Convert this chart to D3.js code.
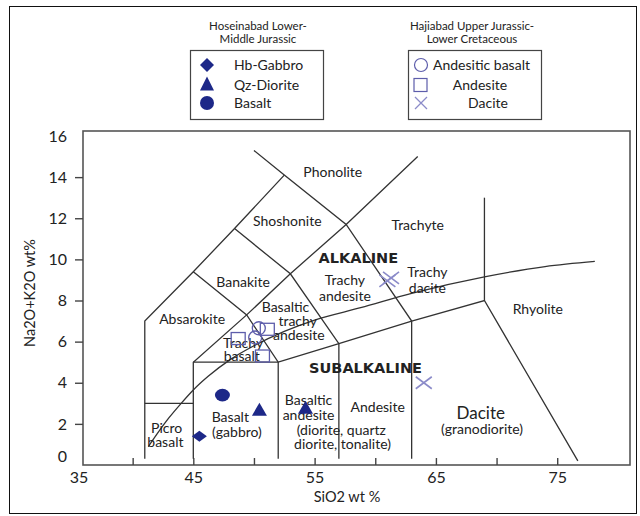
<!DOCTYPE html>
<html>
<head>
<meta charset="utf-8">
<script src="https://cdn.jsdelivr.net/npm/d3@7"></script>
<style>
  body { margin: 0; background: #fff; }
  text { font-family: Lato, "Open Sans", sans-serif; fill: #222; }
  .bold { font-family: "DejaVu Sans", Verdana, sans-serif; font-weight: bold; }
</style>
</head>
<body>
<div id="chart"></div>
<script>
// samples (SiO2 wt%, Na2O+K2O wt%)
var hbGabbro = [[45.5, 1.4]];
var qzDiorite = [[50.45, 2.65], [54.25, 2.75]];
var basalt = [[47.4, 3.4]];
var andesiticBasalt = [[50.4, 6.65], [50.1, 6.2]];
var andesite = [[48.7, 6.15], [51.1, 6.6], [50.7, 5.3]];
var dacite = [[61.0, 8.95], [61.3, 9.1], [64.0, 4.0]];

// TAS field boundaries
var boundaries = [
  [[41, 0.3], [41, 7], [45, 9.4], [48.4, 11.5], [52.5, 14.1]],
  [[41, 3], [45, 3]],
  [[50, 15.3], [52.5, 14.1], [57.6, 11.7], [63, 7], [63, 0.3]],
  [[45, 0.3], [45, 5], [49.4, 7.3], [53, 9.3], [57.6, 11.7], [63.5, 15]],
  [[45, 9.4], [49.4, 7.3], [52, 5], [52, 0.3]],
  [[48.4, 11.5], [53, 9.3], [57, 5.9], [57, 0.3]],
  [[45, 5], [52, 5], [57, 5.9], [63, 7], [69, 8], [76.7, 0.2]],
  [[69, 8], [69, 13]]
];

// alkaline / subalkaline dividing curve
var divide = [[41.3, 0.9], [42, 1.5], [43, 2.3], [44, 3.0], [45, 3.65], [46.2, 4.3],
  [48.1, 5.15], [50, 5.8], [52.5, 6.5], [55, 7.05], [58.8, 7.65], [63, 8.35],
  [69, 9.15], [74, 9.65], [78.1, 9.9]];

var fieldLabels = [
  ["Phonolite", 56.5, 14.25], ["Shoshonite", 52.75, 11.87], ["Banakite", 49.1, 8.9],
  ["Absarokite", 44.9, 7.1], ["Trachyte", 63.5, 11.67],
  ["Trachy", 57.5, 8.98], ["andesite", 57.5, 8.2],
  ["Trachy", 64.3, 9.38], ["dacite", 64.3, 8.6], ["Rhyolite", 73.4, 7.59],
  ["Basaltic", 52.6, 7.68], ["trachy", 53.6, 7.0], ["andesite", 53.7, 6.33],
  ["Trachy", 49.1, 5.92], ["basalt", 49.0, 5.3],
  ["Basaltic", 54.5, 3.14], ["andesite", 54.5, 2.43],
  ["(diorite, quartz", 57.2, 1.72], ["diorite, tonalite)", 57.3, 1.0],
  ["Andesite", 60.2, 2.82], ["(granodiorite)", 68.8, 1.75],
  ["Basalt", 48.05, 2.32], ["(gabbro)", 48.6, 1.62],
  ["Picro", 42.8, 1.8], ["basalt", 42.7, 1.12]
];
var seriesLabels = [["ALKALINE", 58.6, 10.07], ["SUBALKALINE", 59.2, 4.72]];

var xTicks = [40, 45, 50, 55, 60, 65, 70, 75];
var xLabels = [35, 45, 55, 65, 75];
var yTicks = [0, 2, 4, 6, 8, 10, 12, 14, 16];

var width = 640, height = 516;
var frame = { left: 83, right: 630, top: 131, bottom: 465 };
var navy = "#1d2888", hollow = "#5d5dab", cross = "#8b8bc9";

var svg = d3.select("#chart").append("svg")
  .attr("width", width).attr("height", height);

var x = d3.scaleLinear().domain([35, 81]).range([72, 630]);
var y = d3.scaleLinear().domain([0, 16]).range([465, 136]);

// outer border
svg.append("rect")
  .attr("x", 9.5).attr("y", 6.5).attr("width", 627).attr("height", 507)
  .attr("fill", "none").attr("stroke", "#111").attr("stroke-width", 1);

// plot frame
svg.append("rect")
  .attr("x", frame.left).attr("y", frame.top)
  .attr("width", frame.right - frame.left).attr("height", frame.bottom - frame.top)
  .attr("fill", "none").attr("stroke", "#555").attr("stroke-width", 1.6);

// axes
var xAxis = d3.axisBottom(x).tickValues(xTicks).tickSize(-7).tickPadding(7)
  .tickFormat(function(d) { return xLabels.indexOf(d) >= 0 ? d : ""; });
var gx = svg.append("g").attr("transform", "translate(0," + frame.bottom + ")").call(xAxis);
gx.select(".domain").remove();
gx.selectAll("line").attr("stroke", "#444").attr("stroke-width", 1.4);
gx.selectAll("text").style("font-size", "16px").attr("fill", "#222");
svg.append("text")
  .attr("x", frame.left - 4).attr("y", frame.bottom + 7).attr("dy", "0.71em")
  .attr("text-anchor", "middle").style("font-size", "16px")
  .text(xLabels[0]);

var yAxis = d3.axisLeft(y).tickValues(yTicks).tickSize(8).tickPadding(8);
var gy = svg.append("g").attr("transform", "translate(" + frame.left + ",0)").call(yAxis);
gy.select(".domain").remove();
gy.selectAll("line").attr("stroke", "#444").attr("stroke-width", 1.4)
  .attr("opacity", function(d) { return (d === 0 || d === 16) ? 0 : 1; });
gy.selectAll("text").style("font-size", "16px").attr("fill", "#222")
  .attr("y", function(d) { return d === 0 ? -9 : 0; });

svg.append("text")
  .attr("x", 347).attr("y", 502)
  .attr("text-anchor", "middle").style("font-size", "14.5px")
  .text("SiO2 wt %");
svg.append("text")
  .attr("transform", "translate(35,293) rotate(-90)")
  .attr("text-anchor", "middle").style("font-size", "14.5px")
  .text("Na2O+K2O wt%");

// field boundaries
var line = d3.line().x(function(d) { return x(d[0]); }).y(function(d) { return y(d[1]); });
svg.append("g").selectAll("path")
  .data(boundaries)
  .enter().append("path")
  .attr("d", line)
  .attr("fill", "none").attr("stroke", "#333").attr("stroke-width", 1.3);

svg.append("path")
  .attr("d", line.curve(d3.curveMonotoneX)(divide))
  .attr("fill", "none").attr("stroke", "#333").attr("stroke-width", 1.3);

// field names
svg.append("g").selectAll("text")
  .data(fieldLabels)
  .enter().append("text")
  .attr("x", function(d) { return x(d[1]); })
  .attr("y", function(d) { return y(d[2]); })
  .attr("dy", "0.35em")
  .attr("text-anchor", "middle")
  .style("font-size", "14px")
  .text(function(d) { return d[0]; });

svg.append("text")
  .attr("x", x(68.7)).attr("y", y(2.53)).attr("dy", "0.35em")
  .attr("text-anchor", "middle").style("font-size", "17px")
  .text("Dacite");

svg.append("g").selectAll("text")
  .data(seriesLabels)
  .enter().append("text")
  .attr("class", "bold")
  .attr("x", function(d) { return x(d[1]); })
  .attr("y", function(d) { return y(d[2]); })
  .attr("dy", "0.35em")
  .attr("text-anchor", "middle")
  .style("font-size", "14.5px")
  .attr("fill", "#111")
  .text(function(d) { return d[0]; });

// marker shapes
function diamond(w, h) {
  return "M0," + (-h / 2) + "L" + (w / 2) + ",0L0," + (h / 2) + "L" + (-w / 2) + ",0Z";
}
function triangle(w, h) {
  return "M0," + (-h * 0.6) + "L" + (w / 2) + "," + (h * 0.4) + "L" + (-w / 2) + "," + (h * 0.4) + "Z";
}
function crossPath(w, h) {
  return "M" + (-w / 2) + "," + (-h / 2) + "L" + (w / 2) + "," + (h / 2) +
    "M" + (-w / 2) + "," + (h / 2) + "L" + (w / 2) + "," + (-h / 2);
}
function pos(d) { return "translate(" + x(d[0]) + "," + y(d[1]) + ")"; }

var pts = svg.append("g");
pts.selectAll(".gab").data(hbGabbro).enter().append("path")
  .attr("transform", pos).attr("d", diamond(15, 11)).attr("fill", navy);
pts.selectAll(".dio").data(qzDiorite).enter().append("path")
  .attr("transform", pos).attr("d", triangle(15, 13)).attr("fill", navy);
pts.selectAll(".bas").data(basalt).enter().append("ellipse")
  .attr("cx", function(d) { return x(d[0]); }).attr("cy", function(d) { return y(d[1]); })
  .attr("rx", 7.5).attr("ry", 6.3).attr("fill", navy);
pts.selectAll(".and").data(andesite).enter().append("rect")
  .attr("x", function(d) { return x(d[0]) - 7; }).attr("y", function(d) { return y(d[1]) - 6; })
  .attr("width", 14).attr("height", 12)
  .attr("fill", "none").attr("stroke", hollow).attr("stroke-width", 1.3);
pts.selectAll(".ab").data(andesiticBasalt).enter().append("circle")
  .attr("cx", function(d) { return x(d[0]); }).attr("cy", function(d) { return y(d[1]); })
  .attr("r", 6.5)
  .attr("fill", "none").attr("stroke", hollow).attr("stroke-width", 1.3);
pts.selectAll(".dac").data(dacite).enter().append("path")
  .attr("transform", pos).attr("d", crossPath(16, 12))
  .attr("fill", "none").attr("stroke", cross).attr("stroke-width", 1.6);

// legends
var legendTitles = [["Hoseinabad Lower-", "Middle Jurassic"], ["Hajiabad Upper Jurassic-", "Lower Cretaceous"]];
var legendLeft = ["Hb-Gabbro", "Qz-Diorite", "Basalt"];
var legendRight = ["Andesitic basalt", "Andesite", "Dacite"];
var rowY = [65, 85, 103];

var boxes = [{ x: 190, w: 133, cx: 258 }, { x: 408, w: 133, cx: 472 }];
boxes.forEach(function(b, i) {
  svg.append("rect")
    .attr("x", b.x + 0.5).attr("y", 50.5).attr("width", b.w).attr("height", 69)
    .attr("fill", "none").attr("stroke", "#444").attr("stroke-width", 1.2);
  svg.selectAll(".title" + i).data(legendTitles[i]).enter().append("text")
    .attr("x", b.cx).attr("y", function(d, j) { return 26 + j * 13; })
    .attr("dy", "0.35em").attr("text-anchor", "middle")
    .style("font-size", "11.5px").attr("fill", "#333")
    .text(function(d) { return d; });
});

svg.append("path").attr("transform", "translate(207," + rowY[0] + ")")
  .attr("d", diamond(14, 14)).attr("fill", navy);
svg.append("path").attr("transform", "translate(207," + rowY[1] + ")")
  .attr("d", triangle(14, 14)).attr("fill", navy);
svg.append("circle").attr("cx", 207).attr("cy", rowY[2]).attr("r", 7).attr("fill", navy);
svg.selectAll(".ll").data(legendLeft).enter().append("text")
  .attr("x", 234).attr("y", function(d, i) { return rowY[i]; }).attr("dy", "0.35em")
  .style("font-size", "14px").text(function(d) { return d; });

svg.append("circle").attr("cx", 421).attr("cy", rowY[0]).attr("r", 6.5)
  .attr("fill", "none").attr("stroke", hollow).attr("stroke-width", 1.2);
svg.append("rect").attr("x", 414).attr("y", rowY[1] - 6.5).attr("width", 13).attr("height", 13)
  .attr("fill", "none").attr("stroke", hollow).attr("stroke-width", 1.2);
svg.append("path").attr("transform", "translate(421," + rowY[2] + ")")
  .attr("d", crossPath(12, 12)).attr("fill", "none").attr("stroke", cross).attr("stroke-width", 1.3);
svg.selectAll(".lr").data(legendRight).enter().append("text")
  .attr("x", function(d, i) { return i === 0 ? 433 : (i === 1 ? 480 : 488); })
  .attr("y", function(d, i) { return rowY[i]; }).attr("dy", "0.35em")
  .attr("text-anchor", function(d, i) { return i === 0 ? "start" : "middle"; })
  .style("font-size", "14px").text(function(d) { return d; });
</script>
</body>
</html>
